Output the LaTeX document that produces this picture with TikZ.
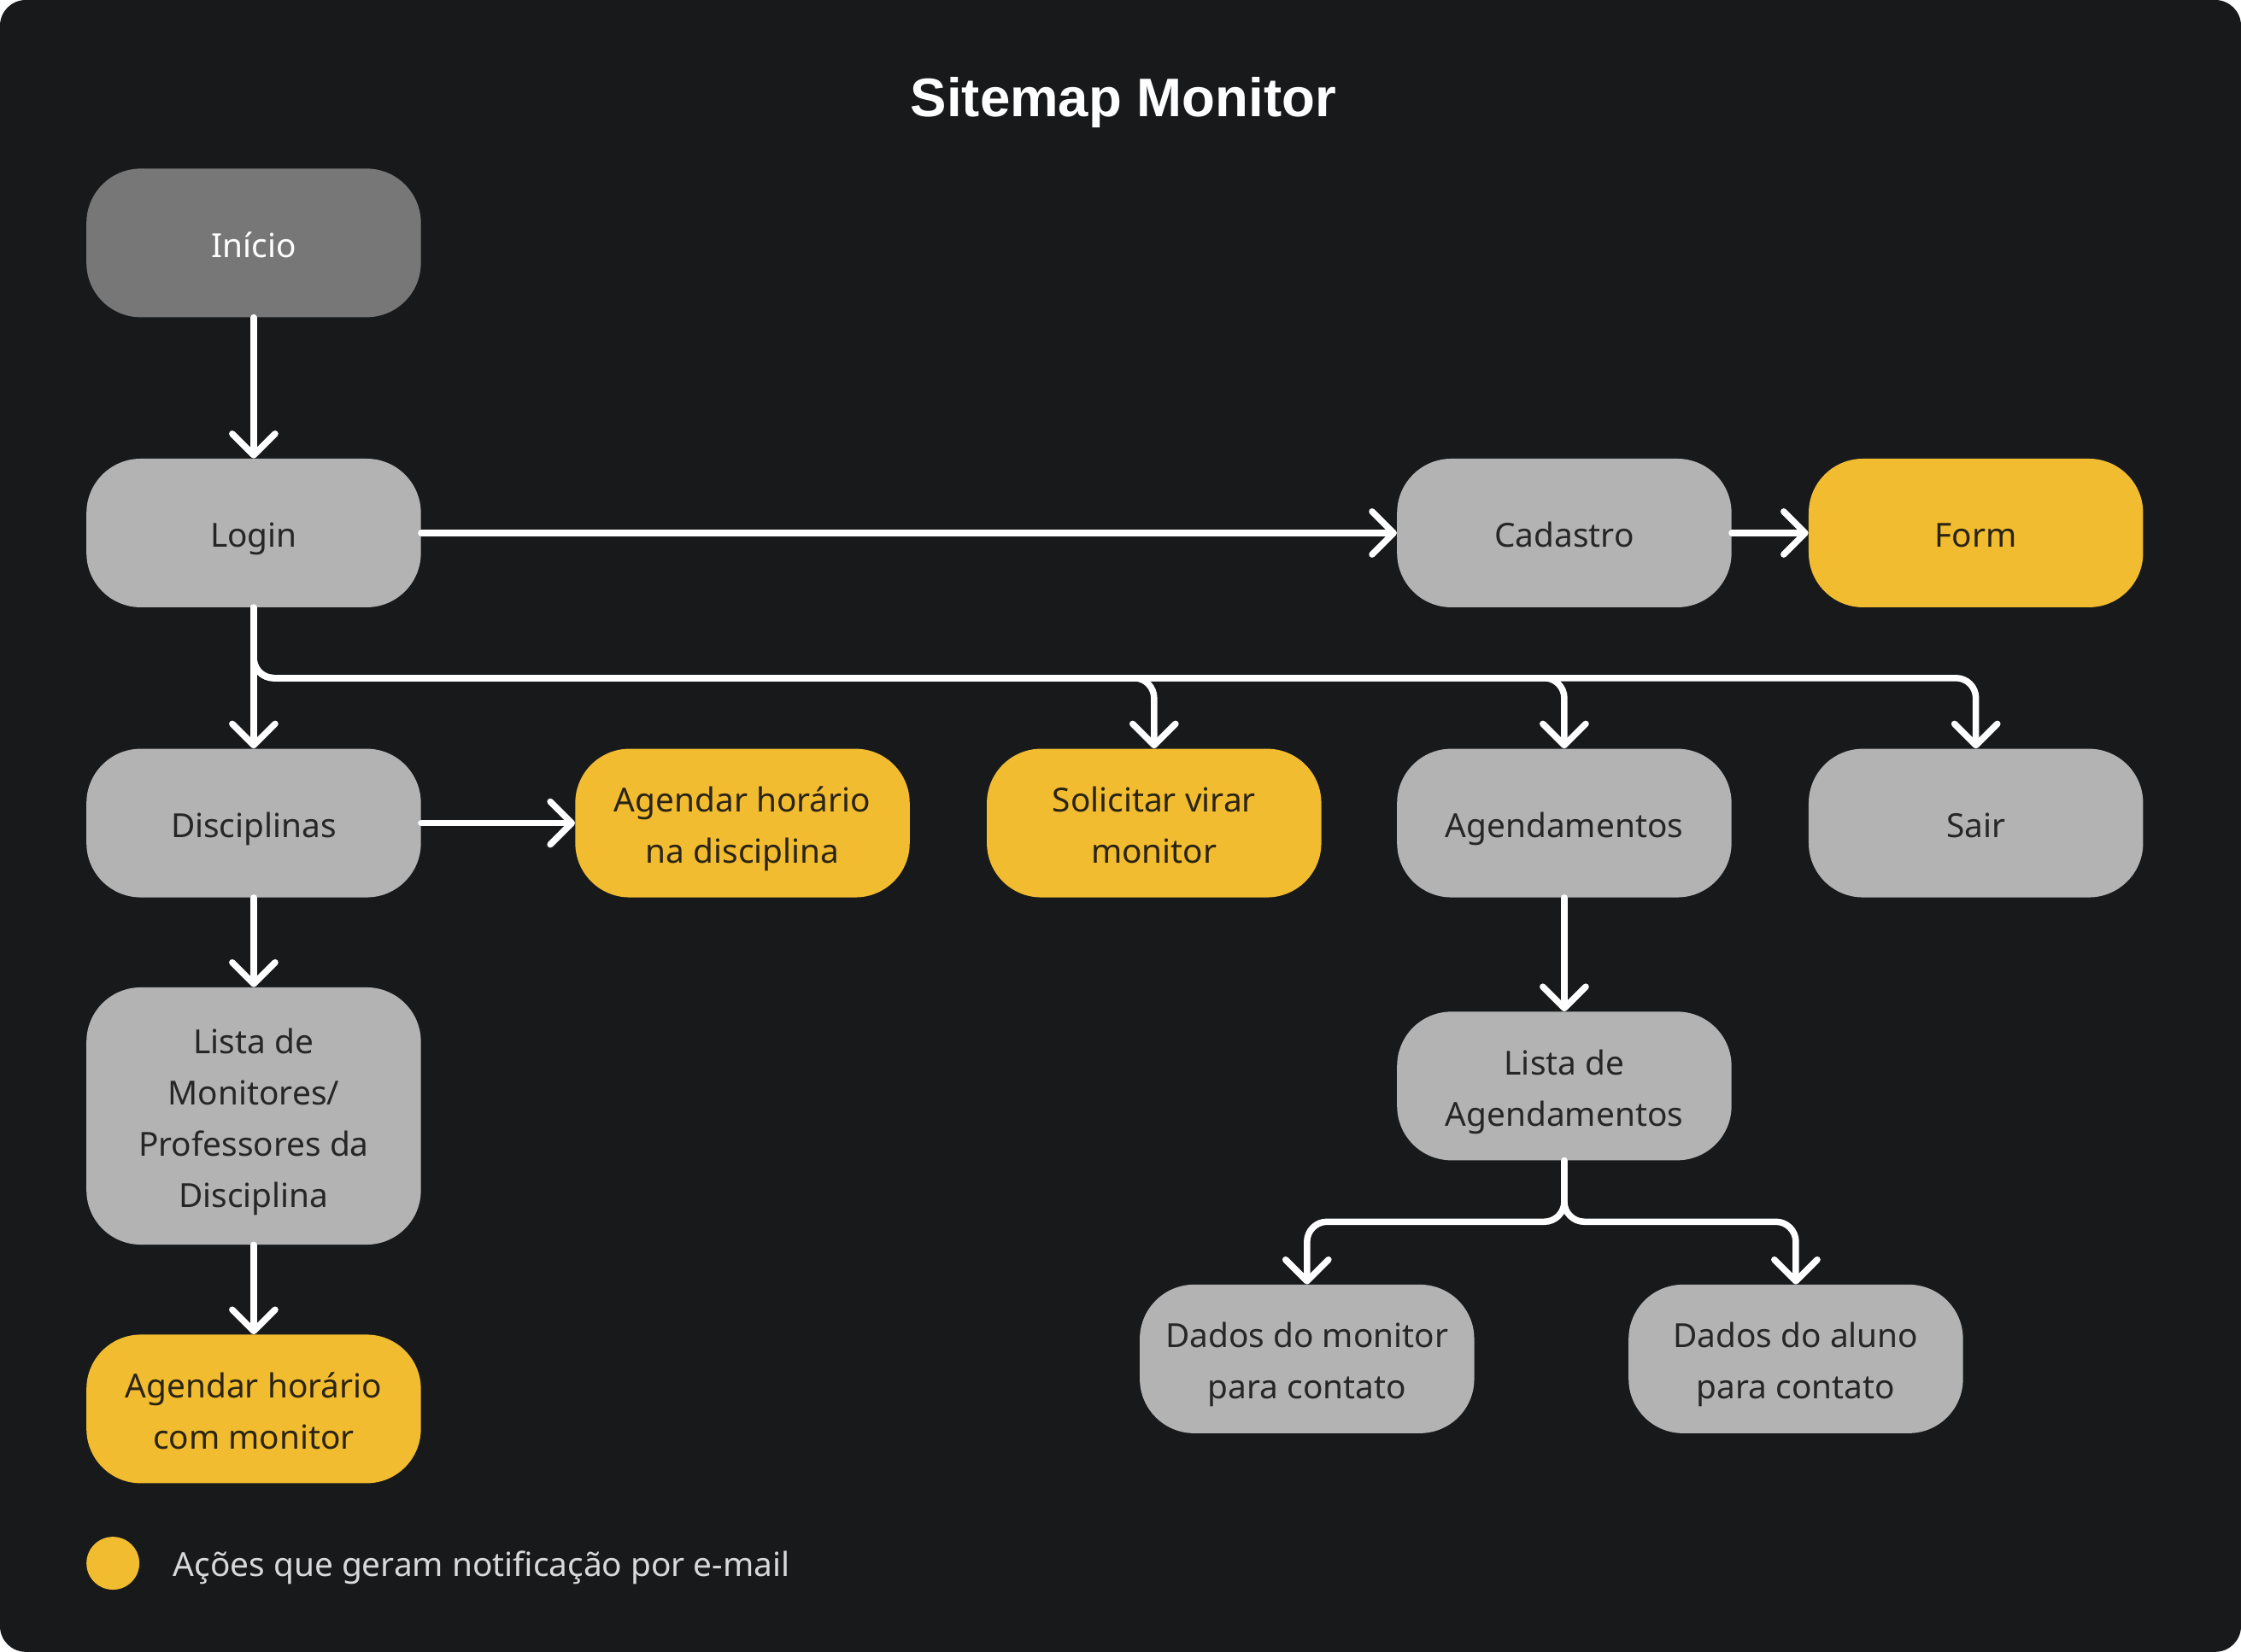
\documentclass[tikz,border=0pt]{standalone}
\usepackage{fontspec}
\setmainfont{Noto Sans}
\newfontfamily\titlefont{Liberation Sans}
\usetikzlibrary{arrows.meta}
\definecolor{bg}{HTML}{18191B}
\definecolor{startgray}{HTML}{777777}
\definecolor{boxgray}{HTML}{B3B3B3}
\definecolor{boxyellow}{HTML}{F2BC30}
\definecolor{txtdark}{HTML}{262626}
\definecolor{txtyellow}{HTML}{2A2415}
\definecolor{txtlight}{HTML}{D9D9D9}
\newcommand\boxlines[1]{\begin{tabular}{@{}c@{}}\rule{0pt}{31pt}#1\end{tabular}}
\begin{document}
\begin{tikzpicture}[x=1pt,y=-1pt,
  box/.style={rounded corners=38pt, minimum width=234pt, minimum height=104pt, inner sep=0pt, font=\fontsize{23.2}{36}\selectfont, text=txtdark, fill=boxgray},
  startbox/.style={box, fill=startgray, text=white},
  actbox/.style={box, fill=boxyellow, text=txtyellow},
  tallbox/.style={box, minimum height=180pt},
  link/.style={draw=white, line width=4.5pt, line cap=round, -{Straight Barb[length=15pt,width=30pt,round]}},
  bus/.style={link, rounded corners=14pt}]
\fill[white] (0,0) rectangle (1568,1156);
\fill[bg, rounded corners=18pt] (0,0) rectangle (1568,1156);
\useasboundingbox (0,0) rectangle (1568,1156);

\node[anchor=base, font=\titlefont\fontsize{38}{46}\selectfont\bfseries, text=white] (title) at (786,81.5) {Sitemap Monitor};

\node[startbox] (inicio) at (177.5,170) {\boxlines{Início}};
\node[box] (login) at (177.5,373) {\boxlines{Login}};
\node[box] (cadastro) at (1094.5,373) {\boxlines{Cadastro}};
\node[actbox] (form) at (1382.5,373) {\boxlines{Form}};
\node[box] (disc) at (177.5,576) {\boxlines{Disciplinas}};
\node[actbox] (agdisc) at (519.5,576) {\boxlines{Agendar horário\\na disciplina}};
\node[actbox] (solic) at (807.5,576) {\boxlines{Solicitar virar\\monitor}};
\node[box] (agend) at (1094.5,576) {\boxlines{Agendamentos}};
\node[box] (sair) at (1382.5,576) {\boxlines{Sair}};
\node[tallbox] (listamon) at (177.5,781) {\boxlines{Lista de\\Monitores/\\Professores da\\Disciplina}};
\node[actbox] (agmon) at (177.5,986) {\boxlines{Agendar horário\\com monitor}};
\node[box] (listaag) at (1094.5,760) {\boxlines{Lista de\\Agendamentos}};
\node[box] (dadosmon) at (914.5,951) {\boxlines{Dados do monitor\\para contato}};
\node[box] (dadosal) at (1256.5,951) {\boxlines{Dados do aluno\\para contato}};

\draw[link] (inicio) -- (login);
\draw[link] (login) -- (cadastro);
\draw[link] (cadastro) -- (form);
\draw[link] (login) -- (disc);
\draw[link] (disc) -- (agdisc);
\draw[link] (disc) -- (listamon);
\draw[link] (listamon) -- (agmon);
\draw[link] (agend) -- (listaag);

\coordinate (branch) at (177.5,474.5);
\draw[bus] (login.south) -- (branch) -| (solic.north);
\draw[bus] (login.south) -- (branch) -| (agend.north);
\draw[bus] (login.south) -- (branch) -| (sair.north);

\coordinate (split) at (1094.5,855);
\draw[bus] (listaag.south) -- (split) -| (dadosmon.north);
\draw[bus] (listaag.south) -- (split) -| (dadosal.north);

\node[circle, fill=boxyellow, minimum size=37pt, inner sep=0pt] (legdot) at (79,1094) {};
\node[anchor=base west, inner sep=0pt, text=txtlight, font=\fontsize{23.2}{36}\selectfont] (legtxt) at (121,1103) {Ações que geram notificação por e-mail};
\end{tikzpicture}
\end{document}
